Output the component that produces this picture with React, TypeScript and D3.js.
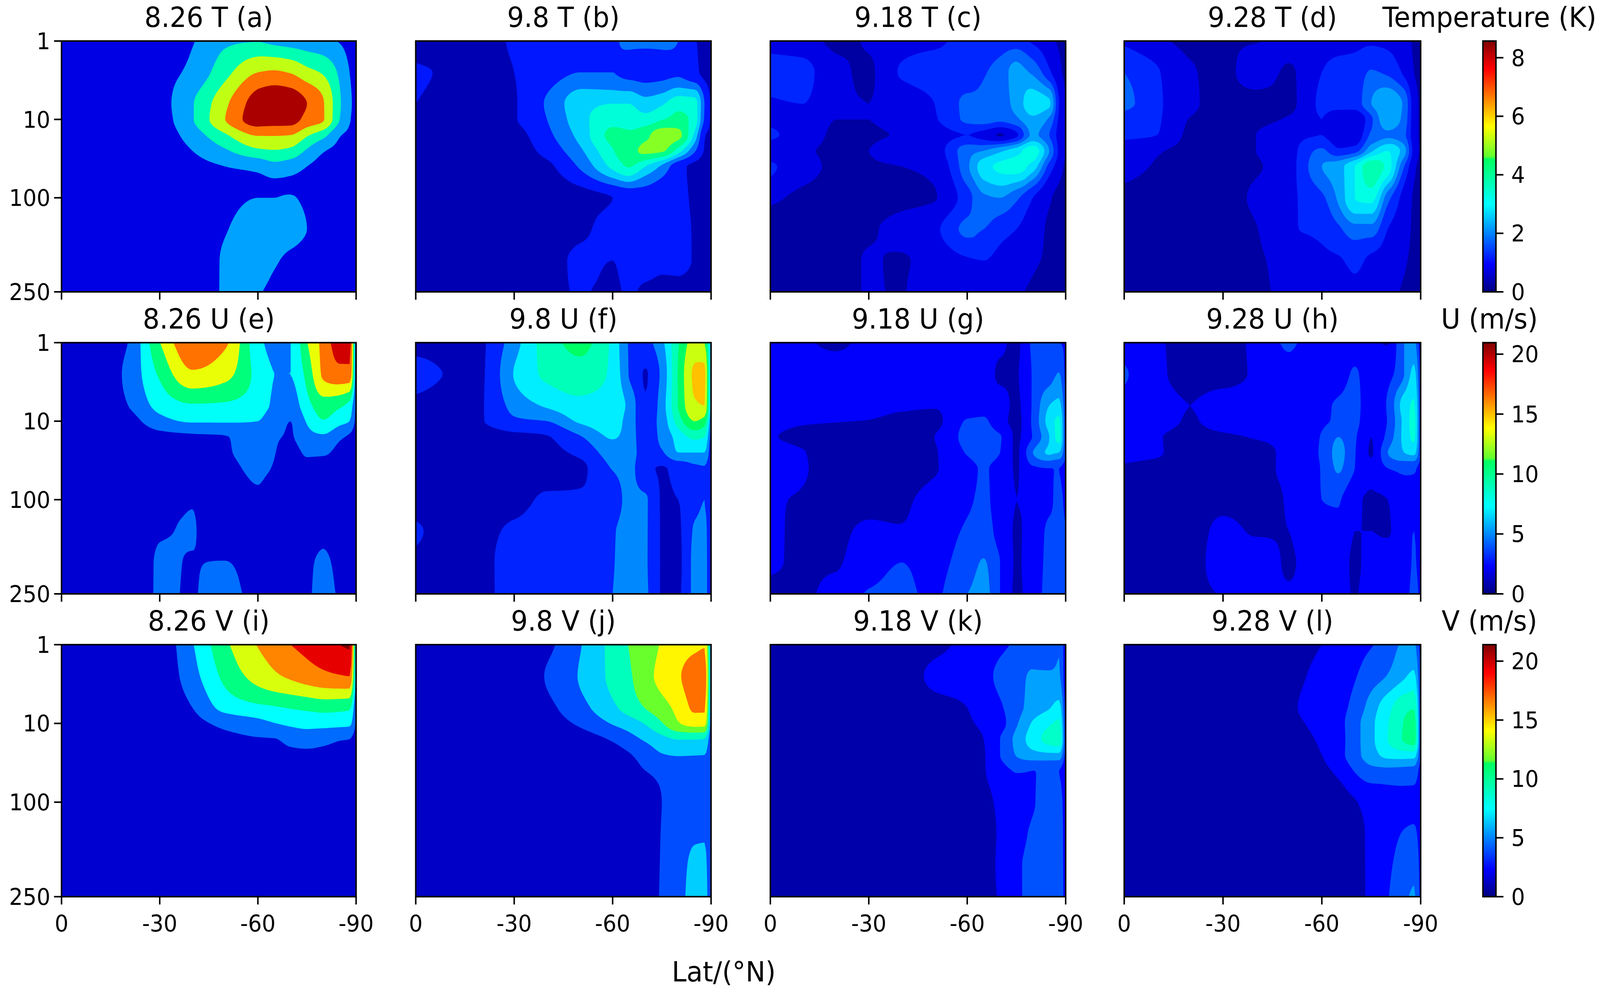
import React from "react";
import * as d3 from "d3";

const LATS = [0,-10,-20,-30,-40,-50,-60,-65,-70,-75,-80,-85,-88,-90];
const PRESSURES = [1,2,3,5,7,10,20,30,50,70,100,125,150,175,200,225,250];
const GRID_LEVELS = [1,3,7,10,20,30,50,100,150,200,250];
const GRID_LEVELS_A = [1,3,7,10,20,30,50,70,100,150,200,250];
const Y_TICKS = [1,10,100,250];
const X_TICKS = [0,-30,-60,-90];

const T_a = [
[.2,.2,.2,.3,1.4,2.7,2.9,2.5,2.2,2.0,1.8,1.4,1.0,.8],
[.2,.2,.3,.9,1.9,4.0,6.0,6.2,5.9,5.0,4.3,2.7,1.5,1.1],
[.2,.2,.4,1.0,2.9,5.7,8.2,8.6,8.4,7.5,6.1,3.2,1.7,1.2],
[.2,.2,.4,.9,2.9,6.0,8.2,8.2,8.1,7.0,6.1,3.0,1.6,1.1],
[.2,.2,.3,.7,2.2,4.3,6.1,6.1,6.0,4.7,3.5,1.6,1.2,.9],
[.1,.2,.2,.5,1.5,2.8,4.2,4.4,4.1,2.8,1.6,1.1,.8,.6],
[.1,.1,.2,.3,1.0,1.5,1.9,2.5,2.2,1.5,1.0,.7,.5,.4],
[.1,.1,.2,.3,.7,1.0,1.2,1.4,1.3,1.0,.8,.6,.5,.4],
[.1,.1,.2,.3,.6,1.2,1.5,1.5,1.55,1.3,.8,.6,.5,.4],
[.1,.1,.2,.3,.7,1.45,1.8,1.8,1.8,1.5,.9,.6,.5,.4],
[.1,.1,.2,.3,.8,1.6,1.9,1.6,1.3,1.0,.7,.5,.4,.4],
[.1,.1,.2,.3,.8,1.55,1.55,1.2,1.0,.8,.6,.5,.4,.4],
];
const T_b = [
[.2,.2,.3,.85,.9,.9,1.4,1.6,1.6,1.6,1.5,.8,.6,.5],
[.85,.65,.4,.75,1.1,1.5,1.5,1.3,1.25,1.3,1.4,.9,.6,.5],
[.75,.5,.4,.7,1.6,2.7,3.0,3.0,2.6,2.9,3.5,3.3,1.5,.6],
[.6,.4,.35,.7,1.5,2.7,3.5,3.4,3.3,3.7,4.0,3.4,1.4,.6],
[.3,.3,.3,.5,1.3,2.5,3.9,3.9,4.3,4.9,4.7,2.8,.8,.6],
[.3,.3,.3,.4,1.0,2.1,3.7,4.2,4.65,4.6,3.4,1.6,.7,.5],
[.2,.2,.2,.3,.6,1.6,3.2,3.8,3.0,2.1,1.0,.6,.5,.4],
[.2,.2,.2,.3,.4,.5,.75,.95,1.1,1.0,.9,.65,.5,.4],
[.2,.2,.2,.25,.3,.6,1.0,1.1,1.0,1.0,.9,.7,.5,.4],
[.2,.2,.2,.3,.4,.9,.75,1.0,1.0,.9,.9,.7,.5,.4],
[.2,.2,.2,.3,.5,.8,.6,.85,.6,.5,.5,.4,.4,.4],
];
const T_c = [
[.8,.7,.4,.55,.8,.9,1.15,1.2,1.2,1.2,.9,.6,.45,.4],
[1.2,1.15,.6,.45,1.05,1.2,1.2,1.45,1.7,2.2,1.9,1.1,.6,.4],
[.95,1.0,.55,.5,.7,1.0,1.6,1.65,1.75,2.2,2.8,2.6,1.0,.5],
[.9,.8,.5,.5,.7,.95,1.6,1.7,1.6,1.9,2.4,1.9,.9,.5],
[1.1,.75,.45,.45,.55,.75,1.0,.8,.45,.9,2.1,1.5,.8,.5],
[.7,.55,.45,.5,.8,.8,1.8,2.0,2.4,2.8,3.3,2.0,.9,.5],
[1.1,.65,.45,.45,.5,.6,1.9,2.8,3.1,3.2,2.8,1.3,.7,.4],
[.6,.4,.35,.35,.4,.48,1.3,1.9,2.0,1.6,1.0,.55,.4,.35],
[.3,.3,.35,.45,.65,.9,1.6,1.5,1.2,1.0,.7,.45,.4,.35],
[.3,.3,.35,.52,.47,.7,.95,1.0,.85,.7,.55,.45,.4,.35],
[.3,.3,.35,.52,.48,.85,.75,.7,.65,.55,.45,.4,.4,.35],
];
const T_d = [
[.9,.6,.4,.45,.48,.7,.8,.8,.85,.9,.85,.65,.45,.4],
[1.5,1.05,.55,.4,.7,.45,1.0,1.15,1.2,1.55,1.4,.9,.5,.4],
[1.7,1.1,.6,.35,.35,.4,1.1,1.2,1.25,2.0,2.45,1.9,.7,.4],
[1.2,1.05,.48,.35,.4,.55,1.0,.6,.5,1.4,2.4,1.8,.7,.4],
[1.1,1.0,.4,.3,.5,.8,1.0,.7,.6,1.6,1.9,1.6,.7,.4],
[.75,.55,.35,.3,.5,.8,1.6,1.1,1.3,2.4,3.0,2.2,.8,.4],
[.7,.45,.3,.3,.45,.8,2.0,2.3,3.0,3.9,3.3,1.5,.6,.35],
[.35,.3,.3,.3,.6,.9,1.4,2.1,3.0,3.2,1.7,.8,.45,.35],
[.3,.3,.3,.3,.48,.95,1.1,1.4,1.8,1.8,1.0,.7,.42,.35],
[.3,.3,.3,.42,.45,.7,.9,.95,1.1,.9,.75,.55,.4,.35],
[.3,.3,.3,.35,.42,.6,.7,.8,.9,.8,.65,.45,.4,.35],
];
const U_e = [
[.5,.8,2.9,11.9,17.5,15.5,7,5,6,11.9,16,19.5,19.5,3],
[.5,.8,3.6,9.5,14.5,13,8,6,6,10,15.5,17,17,3],
[.4,.7,2.9,7,8.7,8.5,7.2,5.5,4.3,8,10.5,9.5,8,2.5],
[.3,.6,1.6,5,6.3,6.3,6,4,3,6.3,8.8,7,6,2],
[.3,.4,.6,2,2.5,2.9,4,3.3,2.8,5,5.5,3.5,2.5,1],
[.3,.4,.6,1.2,1.5,2.7,3.8,3.1,1.8,3.4,3.4,2,1.3,.7],
[.3,.4,.6,1,1.2,2.2,3.5,2.8,1.2,2.2,1.9,1.1,.8,.6],
[.3,.7,1.2,2.4,2.95,1.3,2.5,1.2,1,1,1,.8,.7,.6],
[.4,.8,1.4,2.9,3.05,1.8,1.5,1.1,1,1.5,2.3,1.2,.8,.6],
[.5,.9,1.7,3.1,2.97,3.05,2,1.6,1.5,2.5,3.4,2.2,1.4,1],
[.5,1,1.8,3.1,2.95,3.6,2.2,1.7,1.7,2.6,3.8,2.6,1.5,1.2],
];
const U_f = [
[1.3,1.4,1.8,5.2,9,10.6,7.5,3.9,3.5,5.5,9.9,12.8,12,5],
[2.6,1.95,1.9,6.1,8.4,9.2,7.5,3.9,1.9,4.5,10.2,14.3,14.5,5],
[1.6,1.4,1.9,4.7,6.3,7.4,7.2,5.5,2.2,5,10.1,13.8,14,5],
[1.3,1.3,1.9,3.6,4,6.3,7.1,5,3,4.8,9,12,11,4],
[1,1,1.1,1.5,1.9,3.8,6.2,5,3,4.5,6.8,8.5,8,3],
[.9,.9,1,1,1.5,2.4,4.8,4.7,3.2,3.8,6,6,6,2.5],
[.8,.8,.9,1,1.2,1.6,4.1,4.6,2.4,1.9,2.5,3.7,3.9,2.3],
[1.2,1.1,1.1,1.3,2.3,2.2,3,4.5,4.2,1.9,2,3.6,4,2.2],
[2.2,1.5,1.5,2.4,2.8,2.3,3.8,4.7,4.2,1.9,1.8,4.2,4.4,2.5],
[1.7,1.4,1.5,2.9,3,3,3.9,4.8,4.2,1.9,1.7,4.4,4.5,2.5],
[1.5,1.4,1.5,2.8,2.8,3.2,4,4.8,4.3,1.9,1.8,4.4,4.5,2.5],
];
const U_g = [
[2,1.7,1.2,1.9,2,2.2,2.3,2.2,1.8,1.2,3.2,3.3,3,2.8],
[2.2,2.2,2.1,2.3,2.3,2.4,2.3,2.2,1.3,1.4,3.1,3.8,4.6,2.5],
[2.4,2.2,2.1,2,1.7,1.6,2.3,2.5,2,1.3,3.2,6,6.5,3],
[1.9,1.65,1.55,1.45,1.2,1.2,3.1,3.2,2,1.2,3.3,6.7,7.8,3],
[1.6,1.2,1,1,1,1.5,3.4,3.6,3.1,1.3,3.1,6,8,3],
[2,1.55,1,1,1,1.4,3.1,3.5,3,1.3,4.5,6.2,6,3],
[2,1.6,1,1,1,1.4,2.6,3.1,2.5,1.4,2.8,3,3,2.5],
[1.6,1.4,1,1.1,1.3,2,2.8,3.2,2.4,1.5,1.9,2.8,3.2,2.8],
[1.7,1.3,1.2,1.8,1.6,2.2,3.2,3.6,2.4,1.4,2,3.2,3.2,3],
[1.6,1.4,1.4,2.5,3,2.6,3.8,4.6,3,1.4,2.1,3.3,3.3,3],
[1.3,1.4,1.8,3.1,3.2,2.8,4.5,5,3,1.3,2.2,3.4,3.4,3.2],
];
const U_h = [
[1.9,1.6,1.2,1.1,1.8,3.2,2,2,1.9,1.7,1.4,4.5,4.8,2],
[3.2,1.8,1.1,1.1,1.7,2.6,1.7,2.1,3.2,2,2.5,4.5,6.5,2.5],
[2.4,2,1.5,2,2.2,2.4,2.7,3.2,3.5,1.8,3.2,6.8,7.7,3],
[2.2,2,1.4,2,2.2,2.4,2.8,3.2,3.4,1.6,3.1,6.5,8,3],
[2.1,1.6,1.1,1.3,1.6,2,3.1,4.5,3.2,1.5,3.5,6.5,7.8,3],
[1.8,1.6,1,1,1.1,1.9,3.2,5,3.1,1.4,4.5,6,6.5,3],
[1.4,1.2,.9,1,1.2,1.8,3.1,4.7,3,1.8,3,3.3,3.2,2.5],
[1,1,1,1.2,1.2,1.6,3,3.1,1.7,1.4,1.5,2.5,2.6,2.5],
[1.1,1,1,1.8,1.4,1.5,2.8,2.8,1.5,1.5,1.4,2.6,3,2.5],
[1,1,1,2.1,2.1,1.4,2.2,2.1,1.3,2,2.3,2.5,3.1,2.6],
[1,1,1.1,1.6,2,1.6,2,2,1.4,2.3,2.4,2.6,3.3,2.8],
];
const V_i = [
[.4,.4,.5,1.2,5.8,11.4,15.2,16.5,18,19,20,21,21.5,6],
[.4,.4,.5,1,4.9,9.8,13.2,14.5,15.5,16.5,17.3,17.8,18,5],
[.3,.3,.4,.6,3,7,8.3,8.7,9.2,9.6,10,9.8,9.5,3],
[.3,.3,.4,.4,2,3.8,5,5.9,6.6,7,7,6.9,6.7,2.5],
[.3,.3,.3,.4,1.2,2.2,2.8,2.9,3.8,4.3,3.9,3.2,3,1.5],
[.3,.3,.3,.3,.8,1.4,1.8,2,2.4,2.4,2.2,1.8,1.5,1],
[.3,.3,.3,.3,.6,.9,1.2,1.4,1.6,1.6,1.5,1.3,1.1,.8],
[.3,.3,.3,.3,.4,.5,.7,.8,.9,1,1,1,.9,.7],
[.3,.3,.3,.3,.4,.5,.6,.7,.8,.9,1,1,1,.8],
[.3,.3,.3,.3,.4,.5,.6,.7,.8,1,1.1,1.1,1.1,.8],
[.3,.3,.3,.3,.4,.5,.6,.7,.8,1,1.1,1.2,1.2,.8],
];
const V_j = [
[.3,.3,.4,.5,2,5,8.7,10.5,11.8,13.2,14.2,15,15.4,5],
[.3,.3,.4,.8,2.8,5.4,8.5,10,12.2,13.7,15.3,16.8,17,5],
[.3,.3,.4,.7,2,4.3,7.3,8.9,10.5,12,13.8,16,16,4],
[.3,.3,.3,.4,1.4,3,5.4,6.5,8,10.2,12.8,14,14,3.5],
[.3,.3,.3,.3,.5,1.4,2.9,4.2,5.6,7,7.9,7.9,7.7,3],
[.3,.3,.3,.3,.4,.7,1.5,2.4,3.6,5,5.4,5.3,5.2,2.8],
[.3,.3,.3,.3,.4,.5,.9,1.7,2.6,3,3.1,3.1,3.1,2.7],
[.3,.3,.3,.3,.3,.4,.7,1,1.6,2.6,3.3,3.6,3.6,2.7],
[.3,.3,.3,.3,.3,.4,.6,.8,1.2,2.7,3.6,4.8,4.9,2.8],
[.3,.3,.3,.3,.3,.4,.6,.8,1.2,2.8,4,5.8,5.8,2.9],
[.3,.3,.3,.3,.3,.4,.6,.8,1.2,2.9,4.2,6.2,6.2,3],
];
const V_k = [
[.3,.3,.3,.4,.5,1.2,2,2.5,2.9,3.4,3.8,4,4.7,2],
[.3,.3,.3,.4,.8,1.9,2.2,2.8,3.5,4.2,5,5,5,2],
[.3,.3,.3,.3,.5,1.1,1.6,2.3,3,4.2,5.5,6.3,7,2.4],
[.3,.3,.3,.3,.4,.8,1.4,1.9,2.6,4.6,6.6,7.8,8.3,2.5],
[.3,.3,.3,.3,.4,.7,1.1,1.6,3.2,5.3,7.2,8.6,9,2.6],
[.3,.3,.3,.3,.4,.6,1,1.5,3.2,4.9,5.8,6,6,2.5],
[.3,.3,.3,.3,.4,.6,1,1.5,2.5,3.3,3.2,3.2,3.2,2],
[.3,.3,.3,.3,.4,.6,.9,1.2,1.9,2.5,3.1,3.7,3.8,2.3],
[.3,.3,.3,.3,.3,.5,.8,1,1.8,2.7,3.4,3.9,4,2.4],
[.3,.3,.3,.3,.3,.5,.8,1,1.9,3,3.5,4,4,2.5],
[.3,.3,.3,.3,.3,.5,.8,1,1.8,3,3.5,4.1,4.1,2.5],
];
const V_l = [
[.3,.3,.3,.4,.5,1,1.6,2,2.7,3.1,3.9,5,5,2.5],
[.3,.3,.3,.4,.6,1.2,2,2.5,3.1,4,4.9,6.2,6.8,3],
[.3,.3,.3,.4,.7,1.4,2.2,2.7,3.7,5.6,7.5,9.2,9.5,3],
[.3,.3,.3,.4,.7,1.3,2,2.7,4.2,6,7.9,9.7,10.4,3],
[.3,.3,.3,.4,.6,1.1,1.8,2.6,4.2,6,8,9.8,10.5,3],
[.3,.3,.3,.3,.5,.9,1.6,2.6,4.2,5.7,6.9,7.2,7.2,3],
[.3,.3,.3,.3,.4,.7,1.3,1.9,3.3,4.3,4.4,4.3,4.2,2.5],
[.3,.3,.3,.3,.3,.5,.8,1,1.5,2.1,2.5,2.7,2.7,2.3],
[.3,.3,.3,.3,.3,.4,.7,.9,1.2,1.9,2.7,3.3,3.5,2.5],
[.3,.3,.3,.3,.3,.4,.7,.9,1.2,1.9,2.9,3.9,4.4,2.6],
[.3,.3,.3,.3,.3,.4,.7,.9,1.2,1.9,3.1,4.5,5,2.7],
];

const TITLES = [
  ["8.26 T (a)","9.8 T (b)","9.18 T (c)","9.28 T (d)"],
  ["8.26 U (e)","9.8 U (f)","9.18 U (g)","9.28 U (h)"],
  ["8.26 V (i)","9.8 V (j)","9.18 V (k)","9.28 V (l)"],
];
const GRIDS = [[T_a,T_b,T_c,T_d],[U_e,U_f,U_g,U_h],[V_i,V_j,V_k,V_l]];
const LEVEL_STEPS = [[1.5,.75,.5,.5],[3,2,1.5,1.5],[3,2.6,1.6,1.6]];
const VMAX = [8.57,20.96,21.4];
const BAR_LABELS = ["Temperature (K)","U (m/s)","V (m/s)"];
const BAR_TICKS = [[0,2,4,6,8],[0,5,10,15,20],[0,5,10,15,20]];

const COL_X: [number,number][] = [[165,955],[1115,1907],[2066,2858],[3015,3810]];
const ROW_Y: [number,number][] = [[105,747],[877,1520],[1650,2295]];
const BAR_X: [number,number] = [3977,4012];
const FONT = "'DejaVu Sans', sans-serif";
const TICK_FS = 58, TITLE_FS = 71, TICK_LEN = 20, LW = 4;

const jet = d3.scaleLinear<string>()
  .domain([0,.11,.35,.53,.54,.66,.89,1])
  .range(["#000080","#0000ff","#00ffff","#00ff60","#60ff30","#ffff00","#ff0000","#800000"])
  .interpolate(d3.interpolateRgb)
  .clamp(true);

// monotone cubic resampling along one axis, used only to round the rendered contour lines
function monotone(xs:number[], ys:number[]) {
  const n = xs.length;
  const h = d3.range(n-1).map(i => xs[i+1]-xs[i]);
  const s = d3.range(n-1).map(i => (ys[i+1]-ys[i])/h[i]);
  const m = d3.range(n).map(i => {
    if (i===0) return s[0];
    if (i===n-1) return s[n-2];
    if (s[i-1]*s[i] <= 0) return 0;
    const w1 = 2*h[i]+h[i-1], w2 = h[i]+2*h[i-1];
    return (w1+w2)/(w1/s[i-1]+w2/s[i]);
  });
  return (x:number) => {
    let i = Math.min(n-2, d3.bisectRight(xs,x)-1);
    if (i<0) i=0;
    const t=(x-xs[i])/h[i], t2=t*t, t3=t2*t;
    return (2*t3-3*t2+1)*ys[i]+(t3-2*t2+t)*h[i]*m[i]+(-2*t3+3*t2)*ys[i+1]+(t3-t2)*h[i]*m[i+1];
  };
}

const FX = 181, FY = 129;

function Panel({grid,levels,title,step,vmax,xr,yr,showY,showX}:{grid:number[][];levels:number[];title:string;step:number;vmax:number;xr:[number,number];yr:[number,number];showY:boolean;showX:boolean}) {
  const sx = d3.scaleLinear().domain([0,-90]).range(xr);
  const sy = d3.scalePoint<number>().domain(PRESSURES).range(yr);
  const latIdx = LATS.map(l => -l);
  const rowIdx = levels.map(p => PRESSURES.indexOf(p));
  const fx = d3.range(FX).map(i => i*90/(FX-1));
  const fy = d3.range(FY).map(i => i*16/(FY-1));
  const rowsFine = grid.map(row => { const f = monotone(latIdx,row); return fx.map(f); });
  const colsFine = fx.map((_,i) => { const f = monotone(rowIdx,rowsFine.map(r=>r[i])); return fy.map(f); });
  const values:number[] = [];
  fy.forEach((_,j) => fx.forEach((_,i) => values.push(colsFine[i][j])));
  const maxV = d3.max(values)!;
  const thresholds = d3.range(step, maxV, step);
  const contours = d3.contours().size([FX,FY]).thresholds(thresholds).smooth(true)(values);
  const cx = (c:number) => Math.max(0,Math.min(FX-1,c-.5))*90/(FX-1);
  const cy = (c:number) => Math.max(0,Math.min(FY-1,c-.5))/(FY-1);
  const path = d3.geoPath(d3.geoTransform({
    point(this:any,x:number,y:number){ this.stream.point(sx(-cx(x)), yr[0]+cy(y)*(yr[1]-yr[0])); }
  }) as any);
  return (
    <g>
      <rect x={xr[0]} y={yr[0]} width={xr[1]-xr[0]} height={yr[1]-yr[0]} fill={jet(step/2/vmax)} />
      {contours.map((c,i) => (
        <path key={i} d={path(c as any) || ""} fill={jet((c.value+step/2)/vmax)} />
      ))}
      <rect x={xr[0]} y={yr[0]} width={xr[1]-xr[0]} height={yr[1]-yr[0]} fill="none" stroke="#000" strokeWidth={LW} />
      {X_TICKS.map(t => (
        <g key={t}>
          <line x1={sx(t)} x2={sx(t)} y1={yr[1]} y2={yr[1]+TICK_LEN} stroke="#000" strokeWidth={LW} />
          {showX && <text x={sx(t)} y={yr[1]+89} fontSize={TICK_FS} textAnchor="middle" fontFamily={FONT}>{t}</text>}
        </g>
      ))}
      {showY && Y_TICKS.map(p => (
        <g key={p}>
          <line x1={xr[0]-TICK_LEN} x2={xr[0]} y1={sy(p)!} y2={sy(p)!} stroke="#000" strokeWidth={LW} />
          <text x={xr[0]-30} y={sy(p)!} dy=".36em" fontSize={TICK_FS} textAnchor="end" fontFamily={FONT}>{p}</text>
        </g>
      ))}
      <text x={(xr[0]+xr[1])/2} y={yr[0]-36} fontSize={TITLE_FS} textAnchor="middle" fontFamily={FONT}>{title}</text>
    </g>
  );
}

function ColorBar({yr,vmax,ticks,label}:{yr:[number,number];vmax:number;ticks:number[];label:string}) {
  const sv = d3.scaleLinear().domain([0,vmax]).range([yr[1],yr[0]]);
  const vals = d3.range(0,256).map(i => i/256*vmax);
  const dv = vmax/256;
  return (
    <g>
      {vals.map((v,i) => (
        <rect key={i} x={BAR_X[0]} width={BAR_X[1]-BAR_X[0]} y={sv(v+dv)-.5} height={sv(v)-sv(v+dv)+1} fill={jet((v+dv/2)/vmax)} />
      ))}
      <rect x={BAR_X[0]} y={yr[0]} width={BAR_X[1]-BAR_X[0]} height={yr[1]-yr[0]} fill="none" stroke="#000" strokeWidth={LW} />
      {ticks.map(t => (
        <g key={t}>
          <line x1={BAR_X[1]} x2={BAR_X[1]+TICK_LEN} y1={sv(t)} y2={sv(t)} stroke="#000" strokeWidth={LW} />
          <text x={BAR_X[1]+41} y={sv(t)} dy=".36em" fontSize={TICK_FS} fontFamily={FONT}>{t}</text>
        </g>
      ))}
      <text x={(BAR_X[0]+BAR_X[1])/2} y={yr[0]-36} fontSize={TITLE_FS} textAnchor="middle" fontFamily={FONT}>{label}</text>
    </g>
  );
}

export default function App() {
  return (
    <svg viewBox="0 0 4291 2539" preserveAspectRatio="none" style={{position:"fixed",left:0,top:0,width:"100vw",height:"100vh",display:"block",background:"#fff"}}>
      {GRIDS.map((row,r) => row.map((g,c) => (
        <Panel key={`${r}-${c}`} grid={g} levels={r===0&&c===0?GRID_LEVELS_A:GRID_LEVELS} title={TITLES[r][c]} step={LEVEL_STEPS[r][c]} vmax={VMAX[r]}
          xr={COL_X[c]} yr={ROW_Y[r]} showY={c===0} showX={r===2} />
      )))}
      {ROW_Y.map((yr,r) => <ColorBar key={r} yr={yr} vmax={VMAX[r]} ticks={BAR_TICKS[r]} label={BAR_LABELS[r]} />)}
      <text x={1941} y={2512} fontSize={TITLE_FS} textAnchor="middle" fontFamily={FONT}>Lat/(°N)</text>
    </svg>
  );
}
